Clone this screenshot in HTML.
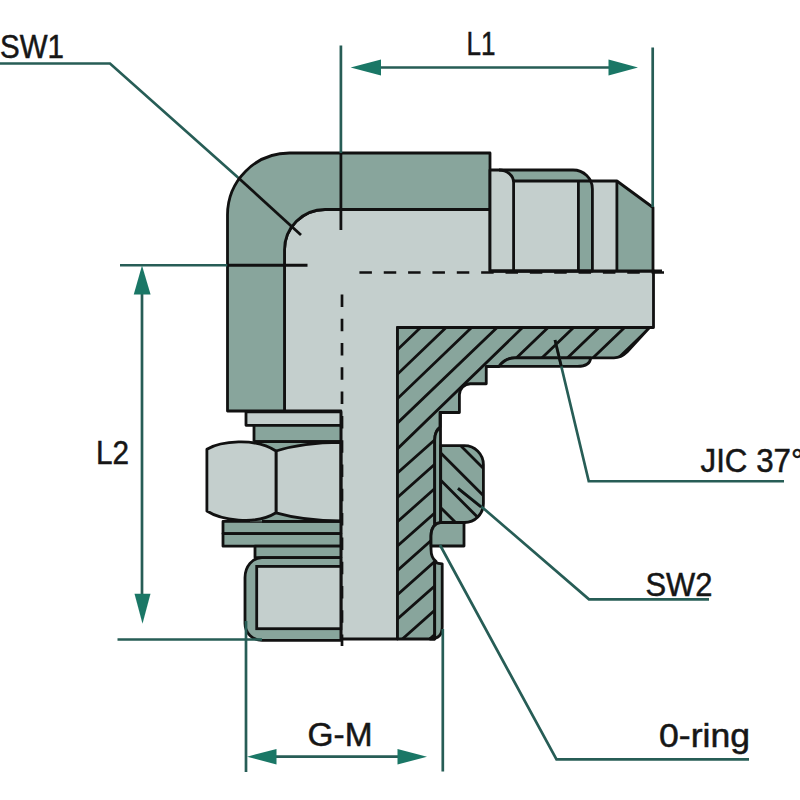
<!DOCTYPE html>
<html><head><meta charset="utf-8"><style>
html,body{margin:0;padding:0;background:#fff;width:800px;height:800px;overflow:hidden}
svg{display:block}
</style></head><body>
<svg width="800" height="800" viewBox="0 0 800 800">
<rect width="800" height="800" fill="#fff"/>
<path d="M284.5,411 V250 A40.5,40.5 0 0 1 325,209.5 H490 V271 H653.5 V327.5 H397.5 V639 H340.9 V411 Z" fill="#c4cfcd" stroke="#111" stroke-width="2.8" stroke-linejoin="round"/>
<path d="M227.5,411 V215 A62,62 0 0 1 289.5,153 H490 V209.5 H325 A40.5,40.5 0 0 0 284.5,250 V411 Z" fill="#88a59c" stroke="#111" stroke-width="2.8" stroke-linejoin="round"/>
<path d="M490,271 V170 H573 A19.4,19 0 0 1 592.4,189 V271 Z" fill="#88a59c"/>
<path d="M490,271 V170 H499 A14.6,12.5 0 0 1 513.6,182.5 V271 Z" fill="#c4cfcd"/>
<rect x="513.6" y="181" width="64.8" height="90" fill="#c4cfcd"/>
<path d="M592.4,181 H616.9 V271 H592.4 Z" fill="#c4cfcd"/>
<path d="M616.9,181 L653,207.5 V271 H616.9 Z" fill="#88a59c"/>
<g fill="none" stroke="#111" stroke-width="2.8" stroke-linejoin="round"><path d="M490,271 V170 H573 A19.4,19 0 0 1 592.4,189 V271 Z"/><path d="M499,170 A14.6,12.5 0 0 1 513.6,182.5 V271"/><path d="M513.6,181 H616.9 L653,207.5 V271"/><path d="M578.4,181 V271"/><path d="M616.9,181 V271"/><path d="M490,271 H662"/></g>
<clipPath id="ch"><path d="M397.5,327.5 H649.5 L627,352 Q621,357.8 614,357.8 H514.7 Q505,358 499,366.5 H486.25 V383.75 H470.5 A11,11 0 0 0 459.4,394.75 V412.5 H440 V427 Q434.7,431 434.7,440 V525 Q431,529 431,536 V549 Q431,558 436,561.5 L434.7,563 V639 H397.5 Z"/></clipPath>
<path d="M397.5,327.5 H649.5 L627,352 Q621,357.8 614,357.8 H514.7 Q505,358 499,366.5 H486.25 V383.75 H470.5 A11,11 0 0 0 459.4,394.75 V412.5 H440 V427 Q434.7,431 434.7,440 V525 Q431,529 431,536 V549 Q431,558 436,561.5 L434.7,563 V639 H397.5 Z" fill="#88a59c"/>
<path clip-path="url(#ch)" d="M273.25,420 L408.67,290 M3.59,660 L273.25,420 M298.75,420 L434.17,290 M29.09,660 L298.75,420 M324.25,420 L459.67,290 M54.59,660 L324.25,420 M349.75,420 L485.17,290 M80.09,660 L349.75,420 M375.25,420 L510.67,290 M105.59,660 L375.25,420 M451.75,420 L587.17,290 M477.25,420 L612.67,290 M502.75,420 L638.17,290 M528.25,420 L663.67,290 M553.75,420 L689.17,290 M579.25,420 L714.67,290 M604.75,420 L740.17,290 M630.25,420 L765.67,290 M655.75,420 L791.17,290 M150.31,660 L536.22,290 M179.58,660 L561.26,290 M187.44,660 L457.11,420 M214.78,660 L484.44,420 M242.12,660 L511.78,420 M269.46,660 L539.12,420 M296.79,660 L566.46,420 M324.13,660 L593.79,420 M351.47,660 L621.13,420 M378.80,660 L648.47,420 M406.14,660 L675.80,420" stroke="#111" stroke-width="2.8" fill="none" stroke-linejoin="round"/>
<path d="M397.5,327.5 H649.5 L627,352 Q621,357.8 614,357.8 H514.7 Q505,358 499,366.5 H486.25 V383.75 H470.5 A11,11 0 0 0 459.4,394.75 V412.5 H440 V427 Q434.7,431 434.7,440 V525 Q431,529 431,536 V549 Q431,558 436,561.5 L434.7,563 V639 H397.5 Z" fill="none" stroke="#111" stroke-width="2.8" stroke-linejoin="round"/>
<path d="M514.7,357.8 H590.7 Q590,366.3 577.5,366.3 H499 Q505,358 514.7,357.8 Z" fill="#88a59c" stroke="#111" stroke-width="2.8" stroke-linejoin="round"/>
<path d="M440.5,412.5 V524.5 H434.7 V440 Q434.7,431 440.5,427 Z" fill="#88a59c" stroke="#111" stroke-width="2.8" stroke-linejoin="round"/>
<clipPath id="cn"><path d="M440.7,445.6 H464.4 A19,19 0 0 1 483.4,464.6 V503.5 A19,19 0 0 1 464.4,522.5 H440.7 Z"/></clipPath>
<path d="M440.7,445.6 H464.4 A19,19 0 0 1 483.4,464.6 V503.5 A19,19 0 0 1 464.4,522.5 H440.7 Z" fill="#88a59c"/>
<path clip-path="url(#cn)" d="M400,303.1 L520,423.1 M400,330.4 L520,450.4 M400,357.7 L520,477.7 M400,385.0 L520,505.0 M400,412.3 L520,532.3 M400,439.6 L520,559.6 M400,466.9 L520,586.9 M400,494.2 L520,614.2 M400,521.5 L520,641.5" stroke="#111" stroke-width="2.8" fill="none"/>
<path d="M440.7,445.6 H464.4 A19,19 0 0 1 483.4,464.6 V503.5 A19,19 0 0 1 464.4,522.5 H440.7 Z" fill="none" stroke="#111" stroke-width="2.8" stroke-linejoin="round"/>
<path d="M440.5,522.5 H464 V546 H431 V536 C431,528 435,523 440.5,522.5 Z" fill="#88a59c" stroke="#111" stroke-width="2.8" stroke-linejoin="round"/>
<path d="M435.6,562.5 Q438,563.5 442.2,563.8 V627 Q442.2,639 430,639 H434.7 V563 Z" fill="#88a59c" stroke="#111" stroke-width="2.8" stroke-linejoin="round"/>
<rect x="246" y="411.9" width="94.89999999999998" height="13.400000000000034" fill="#c4cfcd" stroke="#111" stroke-width="2.8" stroke-linejoin="round"/>
<rect x="254" y="425.3" width="86.89999999999998" height="16.399999999999977" fill="#88a59c" stroke="#111" stroke-width="2.8" stroke-linejoin="round"/>
<rect x="223" y="521.4" width="117.89999999999998" height="12.200000000000045" fill="#88a59c" stroke="#111" stroke-width="2.8" stroke-linejoin="round"/>
<rect x="223" y="533.6" width="117.89999999999998" height="12.600000000000023" fill="#88a59c" stroke="#111" stroke-width="2.8" stroke-linejoin="round"/>
<rect x="255" y="546.2" width="85.89999999999998" height="11.399999999999977" fill="#88a59c" stroke="#111" stroke-width="2.8" stroke-linejoin="round"/>
<rect x="250" y="441.7" width="90.9" height="79.7" fill="#88a59c" stroke="none"/>
<path d="M276,451 C296,444.5 320,442.3 340.9,442.3 V520.8 C320,520.8 296,518.5 276,512.8 Z" fill="#c4cfcd" stroke="#111" stroke-width="2.8" stroke-linejoin="round"/>
<path d="M206.9,449.3 C220,441.5 255,437 276,451 V512.8 C255,526 220,519.5 206.9,511 Z" fill="#c4cfcd" stroke="#111" stroke-width="2.8" stroke-linejoin="round"/>
<path d="M254,441.7 H340.9 M262,521.4 H340.9 M340.9,441.7 V521.4" stroke="#111" stroke-width="2.8" fill="none"/>
<path d="M262,557.6 H340.9 V640.4 H262 A17,17 0 0 1 245,623.4 V577.6 A17,20 0 0 1 262,557.6 Z" fill="#88a59c" stroke="#111" stroke-width="2.8" stroke-linejoin="round"/>
<rect x="256.7" y="566.4" width="84.2" height="62.3" fill="#c4cfcd" stroke="#111" stroke-width="2.8"/>
<path d="M359.4,272.5 H664" stroke="#111" stroke-width="2.7" stroke-dasharray="12.5 11.85" fill="none"/>
<path d="M342,294.4 V646" stroke="#111" stroke-width="2.7" stroke-dasharray="12.5 11.8" fill="none"/>
<path d="M340.9,45.6 V153 M652.7,47.5 V207 M379,67.5 H610" stroke="#275d56" stroke-width="2.7" fill="none"/>
<path d="M340.9,153 V230" stroke="#111" stroke-width="2.8"/>
<path d="M0,63.5 H110 L238,177.5" stroke="#275d56" stroke-width="2.7" fill="none"/>
<path d="M238,177.5 L301,235" stroke="#111" stroke-width="2.8"/>
<path d="M120,265.25 H227.5 M142,292 V596 M117.5,639.5 H262" stroke="#275d56" stroke-width="2.7" fill="none"/>
<path d="M227.5,265.25 H307.5" stroke="#111" stroke-width="2.8"/>
<path d="M246,621 V772 M442.8,629 V771.5 M274,756.7 H400" stroke="#275d56" stroke-width="2.7" fill="none"/>
<path d="M555,340 L588.75,481.25 H784" stroke="#275d56" stroke-width="2.7" fill="none"/>
<path d="M555,340 L561.3,366.3" stroke="#111" stroke-width="2.8"/>
<path d="M458,488.4 L483,508 L589,599.3 H709" stroke="#275d56" stroke-width="2.7" fill="none"/>
<path d="M458,488.4 L481,507" stroke="#111" stroke-width="2.8"/>
<path d="M440,545 L556.5,759.4 H749" stroke="#275d56" stroke-width="2.7" fill="none"/>
<path d="M350.6,67.5 L381,59.4 V75.6 Z" fill="#1a7766"/>
<path d="M638,67.5 L608.5,59.4 V75.6 Z" fill="#1a7766"/>
<path d="M142,265.5 L133.75,294.4 H150.6 Z" fill="#1a7766"/>
<path d="M142.5,623.75 L134.5,593.75 H150.5 Z" fill="#1a7766"/>
<path d="M247,756.7 L276.5,749 V764.5 Z" fill="#1a7766"/>
<path d="M427,756.7 L397.5,749 V764.5 Z" fill="#1a7766"/>
<text x="0" y="58.4" font-family="Liberation Sans, sans-serif" font-size="32.5" fill="#161616" stroke="#161616" stroke-width="0.5" textLength="64" lengthAdjust="spacingAndGlyphs">SW1</text>
<text x="466.5" y="55.2" font-family="Liberation Sans, sans-serif" font-size="32.5" fill="#161616" stroke="#161616" stroke-width="0.5" textLength="29" lengthAdjust="spacingAndGlyphs">L1</text>
<text x="96" y="463.7" font-family="Liberation Sans, sans-serif" font-size="32.5" fill="#161616" stroke="#161616" stroke-width="0.5" textLength="33" lengthAdjust="spacingAndGlyphs">L2</text>
<text x="307.5" y="746" font-family="Liberation Sans, sans-serif" font-size="32.5" fill="#161616" stroke="#161616" stroke-width="0.5" textLength="65" lengthAdjust="spacingAndGlyphs">G-M</text>
<text x="700.5" y="471.7" font-family="Liberation Sans, sans-serif" font-size="32.5" fill="#161616" stroke="#161616" stroke-width="0.5" textLength="103" lengthAdjust="spacingAndGlyphs">JIC 37°</text>
<text x="645.5" y="596.2" font-family="Liberation Sans, sans-serif" font-size="32.5" fill="#161616" stroke="#161616" stroke-width="0.5" textLength="67" lengthAdjust="spacingAndGlyphs">SW2</text>
<text x="659" y="747" font-family="Liberation Sans, sans-serif" font-size="32.5" fill="#161616" stroke="#161616" stroke-width="0.5" textLength="91" lengthAdjust="spacingAndGlyphs">0-ring</text>
</svg>
</body></html>
